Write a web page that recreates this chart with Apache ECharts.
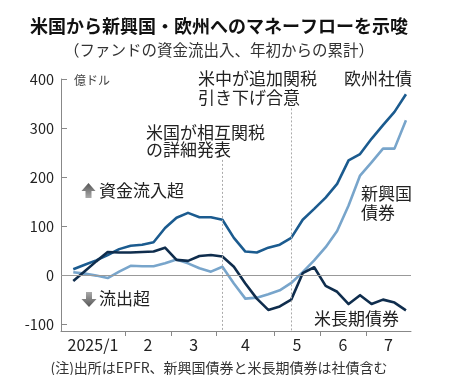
<!DOCTYPE html>
<html>
<head>
<meta charset="utf-8">
<script src="https://cdn.jsdelivr.net/npm/echarts@6/dist/echarts.min.js"></script>
<style>
html, body { margin: 0; padding: 0; background: #fff; }
#app-chart { width: 457px; height: 375px; }
</style>
</head>
<body>
<div id="app-chart"></div>
<script>
//======================================================================================================================
// Data: cumulative fund flows since start of year, 100M USD (weekly)
//======================================================================================================================

var weeks = ['1/1', '1/8', '1/15', '1/22', '1/29', '2/5', '2/12', '2/19', '2/26', '3/5', '3/12', '3/19', '3/26',
    '4/2', '4/9', '4/16', '4/23', '4/30', '5/7', '5/14', '5/21', '5/28', '6/4', '6/11', '6/18', '6/25',
    '7/2', '7/9', '7/16', '7/23'];
var monthLabels = ['2025/1', '2', '3', '4', '5', '6', '7'];
var yTicks = [-100, 0, 100, 200, 300, 400];

var euroCorp = [12, 21, 30, 41, 53, 60, 62, 67, 96, 117, 127, 118, 118, 113, 76, 48, 46, 56, 62, 76,
    113, 135, 158, 186, 234, 247, 278, 306, 333, 369];
var emBonds = [6, 3, -1, -6, 7, 19, 18, 18, 24, 32, 24, 14, 7, 17, -17, -48, -46, -39, -31, -16,
    6, 30, 57, 90, 142, 203, 230, 258, 258, 316];
var usLong = [-12, 8, 28, 47, 46, 46, 47, 48, 56, 31, 29, 39, 41, 38, 17, -17, -48, -71, -64, -50,
    4, 16, -22, -34, -59, -41, -59, -50, -56, -72];

// event markers: week index and top of the dotted line (axis units)
var events = [
    { week: 13, top: 235 },
    { week: 19, top: 340 }
];

//======================================================================================================================
// Chart
//======================================================================================================================

var font = '"Noto Sans CJK JP", "Noto Sans", sans-serif';
var xMin = -1.07, xMax = 29.44, yMin = -114, yMax = 400;

var monthOf = weeks.map(function(w) { return +w.split('/')[0]; });
var bounds = [];
for (var i = 1; i < weeks.length; i++) {
    if (monthOf[i] !== monthOf[i - 1]) bounds.push(i - 0.5);
}
var edges = [xMin].concat(bounds, [xMax]);
var centers = monthLabels.map(function(m, i) { return (edges[i] + edges[i + 1]) / 2; });

function pairs(arr) {
    return arr.map(function(v, i) { return [i, v]; });
}

function txt(x, y, text, size, opts) {
    opts = opts || {};
    return {
        type: 'text', x: x, y: y, silent: true,
        style: {
            text: text, fill: opts.color || '#222',
            font: (opts.bold ? 'bold ' : '') + size + 'px ' + font,
            textAlign: opts.align || 'left', align: opts.align || 'left',
            textVerticalAlign: 'middle', verticalAlign: 'middle'
        }
    };
}

var chart = echarts.init(document.getElementById('app-chart'));
chart.setOption({
    backgroundColor: '#fff',
    animation: false,
    grid: { left: 61, right: 46, top: 79, bottom: 44 },
    xAxis: {
        type: 'value', min: xMin, max: xMax,
        axisLine: { show: true, onZero: false, lineStyle: { color: '#888', width: 1 } },
        axisTick: { show: true, customValues: bounds, length: 5, lineStyle: { color: '#888' } },
        axisLabel: {
            customValues: centers, margin: 6, fontSize: 16, fontFamily: font, color: '#222',
            formatter: function(v) {
                for (var k = 0; k < centers.length; k++) {
                    if (Math.abs(centers[k] - v) < 1e-6) return monthLabels[k];
                }
                return '';
            }
        },
        splitLine: { show: false }
    },
    yAxis: {
        type: 'value', min: yMin, max: yMax,
        axisLine: { show: true, onZero: false, lineStyle: { color: '#888', width: 1 } },
        axisTick: { show: true, inside: true, customValues: yTicks, length: 6, lineStyle: { color: '#888' } },
        axisLabel: { customValues: yTicks, margin: 7, fontSize: 14.5, fontFamily: font, color: '#222' },
        splitLine: { show: false }
    },
    series: [{
        name: '新興国債券', type: 'line', data: pairs(emBonds), showSymbol: false,
        lineStyle: { color: '#78a5cb', width: 2.6, join: 'round' },
        markLine: {
            silent: true, symbol: 'none', label: { show: false },
            lineStyle: { color: '#999', type: 'solid', width: 1 },
            data: [{ yAxis: 0 }]
        }
    }, {
        name: '欧州社債', type: 'line', data: pairs(euroCorp), showSymbol: false,
        lineStyle: { color: '#1b5b8f', width: 2.6, join: 'round' },
        markLine: {
            silent: true, symbol: 'none', label: { show: false },
            lineStyle: { color: '#aaa', type: [2, 2], width: 1 },
            data: events.map(function(e) {
                return [{ coord: [e.week, e.top] }, { coord: [e.week, yMin] }];
            })
        }
    }, {
        name: '米長期債券', type: 'line', data: pairs(usLong), showSymbol: false,
        lineStyle: { color: '#0f2d4d', width: 2.6, join: 'round' }
    }],
    graphic: [
        txt(219, 26, '米国から新興国・欧州へのマネーフローを示唆', 18, { bold: true, align: 'center', color: '#111' }),
        txt(219, 50, '（ファンドの資金流出入、年初からの累計）', 15.5, { align: 'center', color: '#333' }),
        txt(74, 80, '億ドル', 12, { color: '#444' }),
        txt(198, 79, '米中が追加関税', 17),
        txt(198, 97.5, '引き下げ合意', 17),
        txt(344, 79, '欧州社債', 17),
        txt(146, 132.5, '米国が相互関税', 17),
        txt(146, 149.5, 'の詳細発表', 17),
        txt(99, 190.5, '資金流入超', 17),
        txt(99, 299, '流出超', 17),
        txt(361, 194, '新興国', 17),
        txt(361, 212.5, '債券', 17),
        txt(314, 318.5, '米長期債券', 17),
        txt(219, 368, '(注)出所はEPFR、新興国債券と米長期債券は社債含む', 14, { align: 'center', color: '#333' }),
        {
            type: 'polygon', silent: true,
            shape: { points: [[88.5, 183], [95.5, 191], [91.5, 191], [91.5, 198], [85.5, 198], [85.5, 191], [81.5, 191]] },
            style: { fill: { type: 'linear', x: 0, y: 0, x2: 0, y2: 1,
                colorStops: [{ offset: 0, color: '#555' }, { offset: 1, color: '#aaa' }] } }
        },
        {
            type: 'polygon', silent: true,
            shape: { points: [[86, 292], [92, 292], [92, 299], [96.5, 299], [89, 307], [81.5, 299], [86, 299]] },
            style: { fill: { type: 'linear', x: 0, y: 0, x2: 0, y2: 1,
                colorStops: [{ offset: 0, color: '#aaa' }, { offset: 1, color: '#555' }] } }
        }
    ]
});
</script>
</body>
</html>
